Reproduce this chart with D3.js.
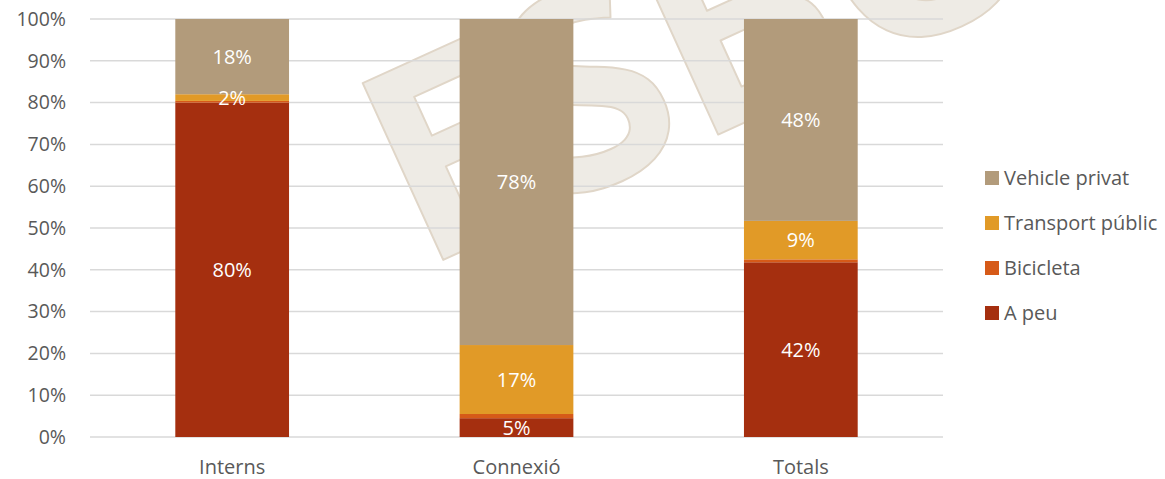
<!DOCTYPE html>
<html lang="ca">
<head>
<meta charset="UTF-8">
<title>Repartiment modal</title>
<script src="https://cdn.jsdelivr.net/npm/d3@7"></script>
<style>
  body { margin: 0; background: #fff; }
  svg { display: block; font-family: "Open Sans", sans-serif; }
</style>
</head>
<body>
<svg width="1165" height="479"></svg>
<script>
// categories and series (share of trips, %)
var categories = ["Interns", "Connexió", "Totals"];
var seriesNames = ["A peu", "Bicicleta", "Transport públic", "Vehicle privat"];
var aPeu = [80, 4.5, 41.8];
var bicicleta = [0.4, 1, 0.7];
var transportPublic = [1.6, 16.5, 9.2];
var vehiclePrivat = [18, 78, 48.3];
var labelsShown = [["80%", "5%", "42%"], ["", "", ""], ["2%", "17%", "9%"], ["18%", "78%", "48%"]];
var yTicks = [0, 10, 20, 30, 40, 50, 60, 70, 80, 90, 100];
var colors = ["#a52f0f", "#d65a18", "#e19a27", "#b29b7b"];

var svg = d3.select("svg");

var rows = categories.map(function(c, i) {
  return { cat: c, "A peu": aPeu[i], "Bicicleta": bicicleta[i], "Transport públic": transportPublic[i], "Vehicle privat": vehiclePrivat[i] };
});

var x = d3.scaleBand().domain(categories).range([90, 943]).paddingInner(0.6).paddingOuter(0.3);
var y = d3.scaleLinear().domain([0, 100]).range([437, 19]);
var color = d3.scaleOrdinal().domain(seriesNames).range(colors);

// watermark (behind everything)
svg.append("text")
  .attr("transform", "translate(421,270) rotate(-24.5)")
  .attr("font-family", "Open Sans, sans-serif")
  .attr("font-weight", 700)
  .attr("font-size", 272)
  .attr("fill", "#eeebe5")
  .attr("stroke", "#e0d6c8")
  .attr("stroke-width", 2)
  .attr("stroke-linejoin", "round")
  .text("ESBORRANY");

// gridlines
svg.append("g")
  .selectAll("line")
  .data(yTicks)
  .join("line")
  .attr("x1", 90).attr("x2", 943)
  .attr("y1", function(d) { return y(d); })
  .attr("y2", function(d) { return y(d); })
  .attr("stroke", "#d9d9d9")
  .attr("stroke-width", 1.5);

// y axis labels
var yAxis = svg.append("g")
  .attr("transform", "translate(75,0)")
  .call(d3.axisLeft(y).tickValues(yTicks).tickSize(0).tickPadding(9).tickFormat(function(d) { return d + "%"; }));
yAxis.select(".domain").remove();
yAxis.selectAll("text").attr("font-size", 19.5).attr("font-family", "Open Sans, sans-serif").attr("fill", "#595959");

// x axis labels
var xAxis = svg.append("g")
  .attr("transform", "translate(0,437)")
  .call(d3.axisBottom(x).tickSize(0).tickPadding(23));
xAxis.select(".domain").remove();
xAxis.selectAll("text").attr("font-size", 20).attr("font-family", "Open Sans, sans-serif").attr("fill", "#595959");

// stacked bars
var stacked = d3.stack().keys(seriesNames)(rows);

var layers = svg.append("g")
  .selectAll("g")
  .data(stacked)
  .join("g")
  .attr("fill", function(d) { return color(d.key); });

layers.selectAll("rect")
  .data(function(d) { return d; })
  .join("rect")
  .attr("x", function(d) { return x(d.data.cat); })
  .attr("width", x.bandwidth())
  .attr("y", function(d) { return y(d[1]); })
  .attr("height", function(d) { return y(d[0]) - y(d[1]); });

// value labels
stacked.forEach(function(layer, si) {
  svg.append("g")
    .selectAll("text")
    .data(layer)
    .join("text")
    .attr("x", function(d) { return x(d.data.cat) + x.bandwidth() / 2; })
    .attr("y", function(d) { return y((d[0] + d[1]) / 2); })
    .attr("dy", "0.36em")
    .attr("text-anchor", "middle")
    .attr("font-size", 20)
    .attr("fill", "#ffffff")
    .text(function(d, i) { return labelsShown[si][i]; });
});

// legend (top entry = last series)
var legendItems = seriesNames.slice().reverse();
var ly = d3.scalePoint().domain(legendItems).range([178, 313]);
var legend = svg.append("g")
  .selectAll("g")
  .data(legendItems)
  .join("g")
  .attr("transform", function(d) { return "translate(985," + ly(d) + ")"; });
legend.append("rect")
  .attr("x", 0).attr("y", -7)
  .attr("width", 14).attr("height", 14)
  .attr("fill", function(d) { return color(d); });
legend.append("text")
  .attr("x", 19).attr("dy", "0.36em")
  .attr("font-size", 20)
  .attr("fill", "#595959")
  .text(function(d) { return d; });
</script>
</body>
</html>
